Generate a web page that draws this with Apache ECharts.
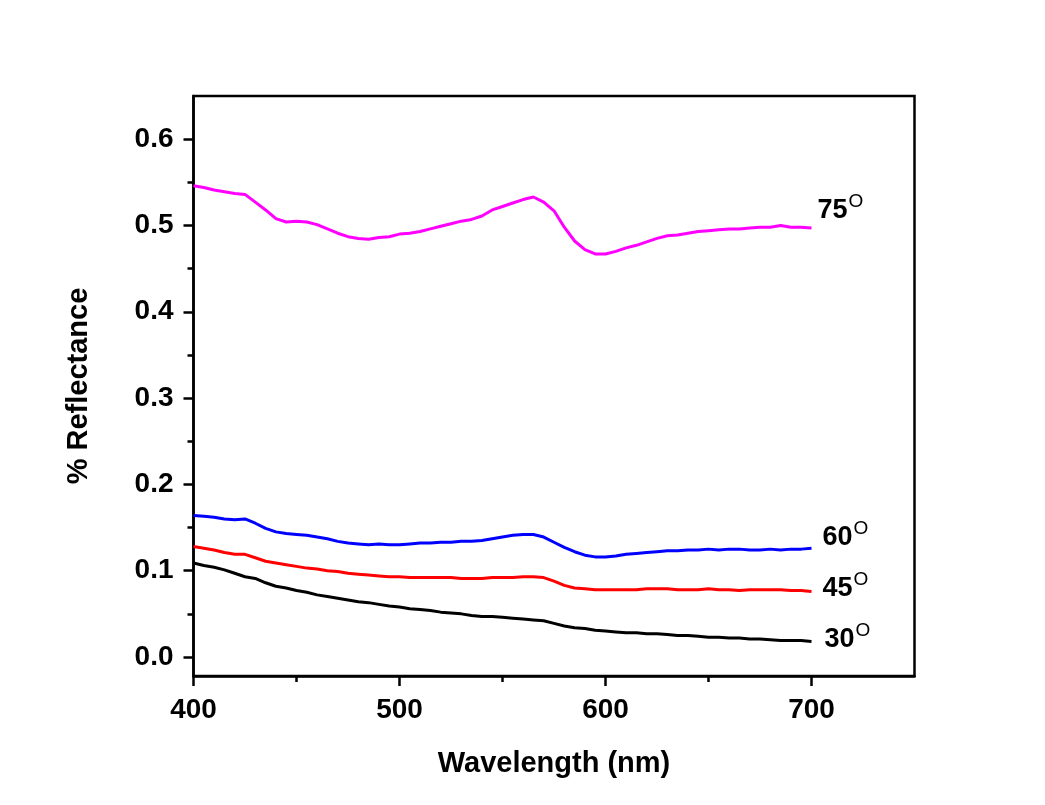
<!DOCTYPE html>
<html>
<head>
<meta charset="utf-8">
<script src="https://cdn.jsdelivr.net/npm/echarts@6/dist/echarts.min.js"></script>
<style>
html,body{margin:0;padding:0;background:#fff;}
#chart{width:1045px;height:805px;}
</style>
</head>
<body>
<div id="chart"></div>
<script>
// Wavelength (nm), 5 nm steps
const wavelengths = [];
for (let w = 400; w <= 700; w += 5) wavelengths.push(w);

const r75 = [0.546,0.544,0.541,0.539,0.537,0.536,0.527,0.518,0.508,0.504,0.505,0.504,0.501,0.496,0.491,0.487,0.485,0.484,0.486,0.487,
  0.490,0.491,0.493,0.496,0.499,0.502,0.505,0.507,0.511,0.518,0.522,0.526,0.530,0.533,0.527,0.517,0.498,0.482,0.472,0.467,
  0.467,0.470,0.474,0.477,0.481,0.485,0.488,0.489,0.491,0.493,0.494,0.495,0.496,0.496,0.497,0.498,0.498,0.500,0.498,0.498,0.497];
const r60 = [0.164,0.163,0.162,0.160,0.159,0.160,0.155,0.149,0.145,0.143,0.142,0.141,0.139,0.137,0.134,0.132,0.131,0.130,0.131,0.130,
  0.130,0.131,0.132,0.132,0.133,0.133,0.134,0.134,0.135,0.137,0.139,0.141,0.142,0.142,0.139,0.133,0.127,0.122,0.118,0.116,
  0.116,0.117,0.119,0.120,0.121,0.122,0.123,0.123,0.124,0.124,0.125,0.124,0.125,0.125,0.124,0.124,0.125,0.124,0.125,0.125,0.126];
const r45 = [0.128,0.126,0.124,0.121,0.119,0.119,0.115,0.111,0.109,0.107,0.105,0.103,0.102,0.100,0.099,0.097,0.096,0.095,0.094,0.093,
  0.093,0.092,0.092,0.092,0.092,0.092,0.091,0.091,0.091,0.092,0.092,0.092,0.093,0.093,0.092,0.088,0.083,0.080,0.079,0.078,
  0.078,0.078,0.078,0.078,0.079,0.079,0.079,0.078,0.078,0.078,0.079,0.078,0.078,0.077,0.078,0.078,0.078,0.078,0.077,0.077,0.076];
const r30 = [0.109,0.106,0.104,0.101,0.097,0.093,0.091,0.086,0.082,0.080,0.077,0.075,0.072,0.070,0.068,0.066,0.064,0.063,0.061,0.059,
  0.058,0.056,0.055,0.054,0.052,0.051,0.050,0.048,0.047,0.047,0.046,0.045,0.044,0.043,0.042,0.039,0.036,0.034,0.033,0.031,
  0.030,0.029,0.028,0.028,0.027,0.027,0.026,0.025,0.025,0.024,0.023,0.023,0.022,0.022,0.021,0.021,0.020,0.019,0.019,0.019,0.018];

const seriesNames = ['75', '60', '45', '30'];
const seriesValues = [r75, r60, r45, r30];
const seriesColors = ['#FF00FF', '#0000FF', '#FF0000', '#000000'];
const labelOffsets = [[-2, -18], [3, -11], [3, -3], [5, -2]];

const xMajorTicks = [400, 500, 600, 700];
const xMinorTicks = [450, 550, 650];
const yMajorTicks = [0, 0.1, 0.2, 0.3, 0.4, 0.5, 0.6];
const yMinorTicks = [0.05, 0.15, 0.25, 0.35, 0.45, 0.55];

const FONT = '"Liberation Sans", Arial, sans-serif';

const chart = echarts.init(document.getElementById('chart'), null, {renderer: 'canvas'});

const xBase = {
  type: 'value', min: 400, max: 750, splitLine: {show: false}
};
const yBase = {
  type: 'value', min: -0.022, max: 0.65, splitLine: {show: false}
};

const series = seriesNames.map((n, i) => ({
  name: n,
  type: 'line',
  data: wavelengths.map((w, j) => [w, seriesValues[i][j]]),
  showSymbol: false,
  symbol: 'none',
  smooth: false,
  lineStyle: {color: seriesColors[i], width: 3},
  itemStyle: {color: seriesColors[i]},
  animation: false,
  endLabel: {
    show: true,
    offset: labelOffsets[i],
    formatter: '{a|' + n + '}{b|O}',
    rich: {
      a: {fontFamily: FONT, fontWeight: 'bold', fontSize: 27, color: '#000', lineHeight: 36},
      b: {fontFamily: FONT, fontWeight: 'normal', fontSize: 19, color: '#000', verticalAlign: 'top', lineHeight: 19, padding: [0, 0, 0, 1]}
    }
  }
}));

chart.setOption({
  animation: false,
  backgroundColor: '#fff',
  grid: {
    left: 193.5, right: 130.5, top: 96, bottom: 129,
    show: true, borderColor: '#000', borderWidth: 2.5, backgroundColor: 'transparent'
  },
  xAxis: [
    Object.assign({}, xBase, {
      position: 'bottom',
      name: 'Wavelength (nm)',
      nameLocation: 'middle',
      nameGap: 73,
      nameTextStyle: {fontFamily: FONT, fontWeight: 'bold', fontSize: 29, color: '#000'},
      axisLine: {show: true, onZero: false, lineStyle: {color: '#000', width: 2.5}},
      axisTick: {show: true, inside: false, length: 10, customValues: xMajorTicks, lineStyle: {color: '#000', width: 2.5}},
      axisLabel: {show: true, customValues: xMajorTicks, margin: 20, fontFamily: FONT, fontWeight: 'bold', fontSize: 28, color: '#000'}
    }),
    Object.assign({}, xBase, {
      position: 'bottom',
      axisLine: {show: false, onZero: false},
      axisTick: {show: true, inside: false, length: 6, customValues: xMinorTicks, lineStyle: {color: '#000', width: 2.5}},
      axisLabel: {show: false}
    })
  ],
  yAxis: [
    Object.assign({}, yBase, {
      position: 'left',
      name: '% Reflectance',
      nameLocation: 'middle',
      nameGap: 100,
      nameTextStyle: {fontFamily: FONT, fontWeight: 'bold', fontSize: 29, color: '#000'},
      axisLine: {show: true, onZero: false, lineStyle: {color: '#000', width: 2.5}},
      axisTick: {show: true, inside: false, length: 10, customValues: yMajorTicks, lineStyle: {color: '#000', width: 2.5}},
      axisLabel: {show: true, customValues: yMajorTicks, margin: 20, fontFamily: FONT, fontWeight: 'bold', fontSize: 28, color: '#000',
        formatter: v => v.toFixed(1)}
    }),
    Object.assign({}, yBase, {
      position: 'left',
      axisLine: {show: false, onZero: false},
      axisTick: {show: true, inside: false, length: 6, customValues: yMinorTicks, lineStyle: {color: '#000', width: 2.5}},
      axisLabel: {show: false}
    })
  ],
  series: series
});
</script>
</body>
</html>
